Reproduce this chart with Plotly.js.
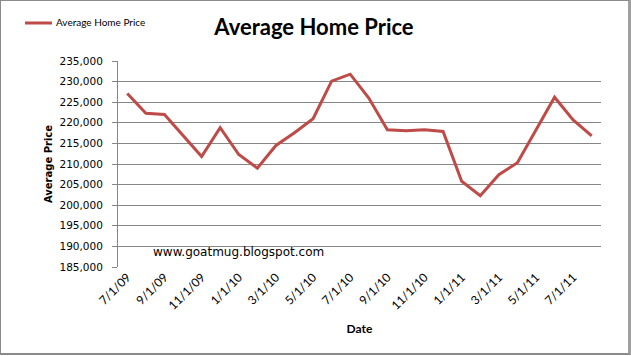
<!DOCTYPE html>
<html>
<head>
<meta charset="utf-8">
<script src="https://cdn.plot.ly/plotly-3.0.1.min.js"></script>
<style>
  html, body { margin: 0; padding: 0; background: #fff; }
  #wrap { position: relative; width: 631px; height: 356px; }
  #chart { width: 631px; height: 356px; }
  #frame { position: absolute; left: 0; top: 0; width: 631px; height: 355px; box-sizing: border-box;
           border: 1px solid #8a8a8a; border-right-width: 3px; border-bottom-width: 2px; border-right-color: #a0a0a0; pointer-events: none; }
</style>
</head>
<body>
<div id="wrap">
  <div id="chart"></div>
  <div id="frame"></div>
</div>
<script>
const dates = ["7/1/09","8/1/09","9/1/09","10/1/09","11/1/09","12/1/09",
               "1/1/10","2/1/10","3/1/10","4/1/10","5/1/10","6/1/10",
               "7/1/10","8/1/10","9/1/10","10/1/10","11/1/10","12/1/10",
               "1/1/11","2/1/11","3/1/11","4/1/11","5/1/11","6/1/11",
               "7/1/11","8/1/11"];
const prices = [227100, 222300, 222000, 217000, 211800, 218800,
                212300, 209000, 214500, 217600, 221000, 230100,
                231800, 226000, 218300, 218100, 218300, 217900,
                205800, 202300, 207400, 210300, 218100, 226200,
                220700, 216800];
const tickDates = ["7/1/09","9/1/09","11/1/09","1/1/10","3/1/10","5/1/10","7/1/10",
                   "9/1/10","11/1/10","1/1/11","3/1/11","5/1/11","7/1/11"];
const yTicks = [185000,190000,195000,200000,205000,210000,215000,220000,225000,230000,235000];
const seriesName = "Average Home Price";
const titleText = "Average Home Price";
const watermark = "www.goatmug.blogspot.com";

const W = 631, H = 356;
const L = 118, R = 30, T = 61, B = 89;
const pw = W - L - R, ph = H - T - B;
const LINE_COLOR = "#BE4B48";
const px2x = px => (px - L) / pw;
const py2y = py => (H - B - py) / ph;

const trace = {
  x: dates, y: prices, type: "scatter", mode: "lines", name: seriesName,
  line: { color: LINE_COLOR, width: 3 }, showlegend: false
};

const layout = {
  width: W, height: H,
  margin: { l: L, r: R, t: T, b: B, pad: 0 },
  paper_bgcolor: "#ffffff", plot_bgcolor: "#ffffff",
  showlegend: false,
  title: {
    text: "<b>" + titleText + "</b>",
    font: { family: "Lato, 'Open Sans', sans-serif", size: 22, color: "#000" },
    x: 314 / W, xref: "container", y: 1 - 27 / H, yref: "container",
    xanchor: "center", yanchor: "middle"
  },
  xaxis: {
    type: "category", categoryorder: "array", categoryarray: dates,
    tickmode: "array", tickvals: tickDates, ticktext: tickDates,
    tickangle: -45, ticks: "", showgrid: false, zeroline: false,
    showline: false,
    range: [-0.5, dates.length - 0.5],
    tickfont: { family: "Lato, 'Open Sans', sans-serif", size: 12, color: "#000" },
    title: { text: "<b>Date</b>", standoff: 12,
             font: { family: "Lato, 'Open Sans', sans-serif", size: 12, color: "#000" } }
  },
  yaxis: {
    range: [185000, 235000], tickmode: "array", tickvals: yTicks,
    tickformat: ",d", ticks: "outside", ticklen: 5, tickcolor: "#868686", tickwidth: 1,
    ticklabelstandoff: 7,
    showgrid: true, gridcolor: "#868686", gridwidth: 1,
    showline: true, linecolor: "#868686", linewidth: 1, zeroline: false,
    tickfont: { family: "'DejaVu Sans', sans-serif", size: 10.5, color: "#000" },
    title: { text: "<b>Average Price</b>", standoff: 4,
             font: { family: "'DejaVu Sans', sans-serif", size: 10, color: "#000" } }
  },
  shapes: [{
    type: "line", xref: "paper", yref: "paper",
    x0: px2x(25), x1: px2x(52), y0: py2y(23), y1: py2y(23),
    line: { color: LINE_COLOR, width: 3 }
  }],
  annotations: [{
    text: watermark, xref: "paper", yref: "paper",
    x: px2x(151), y: py2y(252), xanchor: "left", yanchor: "middle",
    showarrow: false,
    font: { family: "'DejaVu Sans', sans-serif", size: 12, color: "#000" }
  }, {
    text: seriesName, xref: "paper", yref: "paper",
    x: px2x(54), y: py2y(22), xanchor: "left", yanchor: "middle",
    showarrow: false,
    font: { family: "Lato, 'Open Sans', sans-serif", size: 10, color: "#000" }
  }]
};

Plotly.newPlot("chart", [trace], layout, { displayModeBar: false, staticPlot: true });
</script>
</body>
</html>
